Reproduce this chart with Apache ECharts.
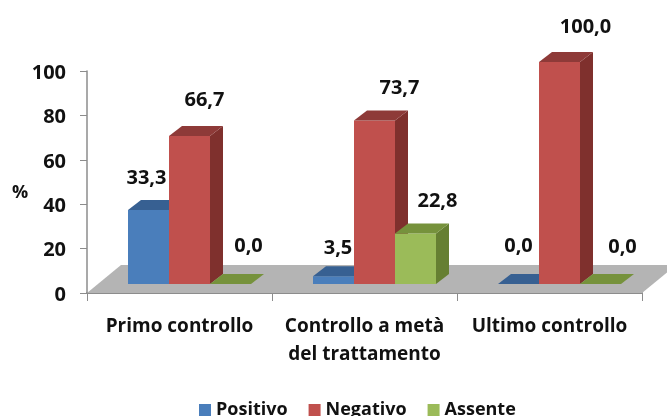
<!DOCTYPE html>
<html><head><meta charset="utf-8">
<style>html,body{margin:0;padding:0;background:#fff}#c{width:667px;height:416px}</style>
<script src="https://cdn.jsdelivr.net/npm/echarts@6/dist/echarts.min.js"></script>
</head><body><div id="c"></div>
<script>
const categories = ['Primo controllo', 'Controllo a metà\ndel trattamento', 'Ultimo controllo'];
const positivo = [33.3, 3.5, 0.0];
const negativo = [66.7, 73.7, 100.0];
const assente = [0.0, 22.8, 0.0];
const yTicks = [0, 100, 20];

const FONT = '"Open Sans"';
const DEPTH = {dx: 13, dy: -10}, FLOOR = {dx: 34, dy: -28};
const BASE_DROP = 9, CLUSTER_SHIFT = 10, BAR_FRAC = 41 / 185;

const styles = [
  {name: 'Positivo', front: '#4a7ebb', top: '#376092', side: '#2f5480', slot: -1,
   nudge: [[-2, -32], [4.5, -28], [0, -38]]},
  {name: 'Negativo', front: '#c0504d', top: '#8e3a38', side: '#7f302d', slot: 0,
   nudge: [[15, -36], [25, -32], [26, -35]]},
  {name: 'Assente', front: '#9bbb59', top: '#76923c', side: '#667f32', slot: 1,
   nudge: [[18, -38], [22, -32], [22, -37]]}
];
const values = [positivo, negativo, assente];

function barItem(st) {
  return function (params, api) {
    const cat = api.value(0), val = api.value(1);
    const w = api.size([1, 0])[0] * BAR_FRAC;
    const pTop = api.coord([cat, val]), pBase = api.coord([cat, 0]);
    const x0 = pTop[0] + CLUSTER_SHIFT + st.slot * w - w / 2, x1 = x0 + w;
    const yT = pTop[1] - BASE_DROP, yB = pBase[1] - BASE_DROP;
    const d = DEPTH;
    const poly = (pts, fill) => ({type: 'polygon', shape: {points: pts}, style: {fill: fill}});
    const kids = [];
    if (val > 0) {
      kids.push(poly([[x1, yT], [x1 + d.dx, yT + d.dy], [x1 + d.dx, yB + d.dy], [x1, yB]], st.side));
      kids.push({type: 'rect', shape: {x: x0, y: yT, width: w, height: yB - yT}, style: {fill: st.front}});
    }
    kids.push(poly([[x0, yT], [x1, yT], [x1 + d.dx, yT + d.dy], [x0 + d.dx, yT + d.dy]], st.top));
    return {type: 'group', children: kids};
  };
}
function labelItem(st) {
  return function (params, api) {
    const cat = api.value(0), val = api.value(1);
    const w = api.size([1, 0])[0] * BAR_FRAC;
    const pTop = api.coord([cat, val]);
    const n = st.nudge[cat];
    return {type: 'text', z2: 100, style: {
      text: val.toFixed(1).replace('.', ','),
      x: pTop[0] + CLUSTER_SHIFT + st.slot * w + n[0],
      y: pTop[1] - BASE_DROP + n[1],
      align: 'center', verticalAlign: 'middle',
      font: '700 20px ' + FONT, fill: '#111'
    }};
  };
}
function floorItem(params, api) {
  const s = api.size([1, 0])[0];
  const a = api.coord([0, 0]), b = api.coord([categories.length - 1, 0]);
  const x0 = a[0] - s / 2, x1 = b[0] + s / 2, y = a[1];
  return {type: 'polygon', shape: {points: [[x0, y], [x1, y], [x1 + FLOOR.dx, y + FLOOR.dy], [x0 + FLOOR.dx, y + FLOOR.dy]]},
    style: {fill: '#b4b4b4'}};
}

const series = [{type: 'custom', name: 'floor', renderItem: floorItem, data: [[0, 0]], encode: {x: 0, y: 1}, z: 1, silent: true}];
styles.forEach((st, i) => {
  series.push({type: 'custom', name: st.name, renderItem: barItem(st), itemStyle: {color: st.front},
    data: categories.map((c, k) => [k, values[i][k]]), encode: {x: 0, y: 1}, z: 2 + i});
});
styles.forEach((st, i) => {
  series.push({type: 'custom', name: st.name + ' label', renderItem: labelItem(st),
    data: categories.map((c, k) => [k, values[i][k]]), encode: {x: 0, y: 1}, z: 10});
});

const chart = echarts.init(document.getElementById('c'), null, {renderer: 'canvas'});
chart.setOption({
  animation: false,
  backgroundColor: '#fff',
  grid: {left: 87, right: 25, top: 71, height: 222, containLabel: false},
  legend: {
    data: styles.map(s => s.name), left: 194, top: 396, icon: 'rect', itemWidth: 12, itemHeight: 12, itemGap: 21,
    textStyle: {fontFamily: FONT, fontWeight: 700, fontSize: 18, color: '#111', padding: [0, 0, 0, 0]}
  },
  graphic: [{type: 'text', left: 12, top: 184, style: {text: '%', font: '700 18px ' + FONT, fill: '#111'}}],
  xAxis: {
    type: 'category', data: categories, boundaryGap: true,
    axisLine: {lineStyle: {color: '#8c8c8c', width: 2}},
    axisTick: {show: true, length: 8, lineStyle: {color: '#8c8c8c'}},
    axisLabel: {interval: 0, margin: 20, fontFamily: FONT, fontWeight: 700, fontSize: 19, lineHeight: 28, color: '#111'}
  },
  yAxis: {
    type: 'value', min: yTicks[0], max: yTicks[1], interval: yTicks[2],
    axisLine: {show: true, lineStyle: {color: '#8c8c8c', width: 1.5}},
    axisTick: {show: true, length: 7, lineStyle: {color: '#8c8c8c'}},
    splitLine: {show: false},
    axisLabel: {margin: 21, verticalAlign: 'top', lineHeight: 4, fontFamily: FONT, fontWeight: 700, fontSize: 20, color: '#111'}
  },
  series: series
});
</script></body></html>
